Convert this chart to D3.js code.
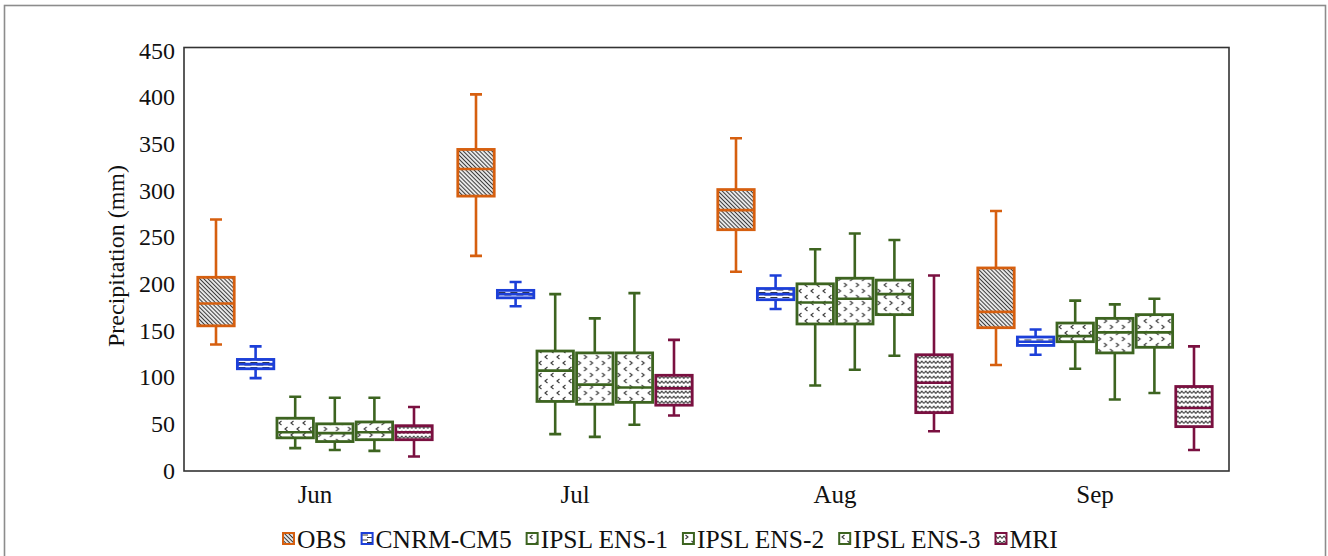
<!DOCTYPE html>
<meta charset="utf-8">
<script src="https://d3js.org/d3.v7.min.js"></script>
<style>
  body { margin: 0; background: #fff; }
</style>
<body>
  <div id="chart"></div>
</body>
<script>

  // categories and series
  var months = ["Jun", "Jul", "Aug", "Sep"];
  var seriesNames = ["OBS", "CNRM-CM5", "IPSL ENS-1", "IPSL ENS-2", "IPSL ENS-3", "MRI"];
  var seriesColors = ["#d65f0f", "#1c3fd8", "#3d6420", "#7a1040"];
  var yTicks = [0, 50, 100, 150, 200, 250, 300, 350, 400, 450];

  // box stats per month: [low whisker, q1, median, q3, high whisker]
  var obsStats   = [[135, 155, 179, 207, 269], [230, 294, 323, 344, 403], [213, 258, 279, 301, 356], [113, 153, 170, 217, 278]];
  var cnrmStats  = [[99, 109, 114, 119, 133], [176, 185, 189, 193, 202], [173, 183, 189, 195, 209], [124, 134, 138, 143, 151]];
  var ipsl1Stats = [[24, 35, 41, 56, 79], [39, 74, 107, 128, 189], [91, 157, 180, 200, 237], [109, 138, 144, 158, 182]];
  var ipsl2Stats = [[22, 31, 40, 50, 78], [36, 71, 92, 126, 163], [108, 157, 184, 206, 254], [76, 126, 148, 163, 178]];
  var ipsl3Stats = [[21, 33, 41, 52, 78], [49, 73, 89, 126, 190], [123, 167, 189, 204, 247], [83, 132, 148, 167, 184]];
  var mriStats   = [[15, 33, 41, 48, 68], [59, 70, 88, 102, 140], [42, 62, 94, 124, 209], [22, 47, 67, 90, 133]];

  var allStats = [obsStats, cnrmStats, ipsl1Stats, ipsl2Stats, ipsl3Stats, mriStats];
  var colorOf = [seriesColors[0], seriesColors[1], seriesColors[2], seriesColors[2], seriesColors[2], seriesColors[3]];
  var patternOf = ["pat-obs", "pat-cnrm", "pat-ipsl1", "pat-ipsl2", "pat-ipsl3", "pat-mri"];

  var serif = "'Liberation Serif', 'Times New Roman', serif";
  var W = 1328, H = 556;
  var frame = { left: 184, right: 1229, top: 47.5, bottom: 471 };

  var svg = d3.select("#chart")
    .append("svg")
    .attr("width", W)
    .attr("height", H)
    .style("font-family", serif);

  // outer figure border
  svg.append("rect")
    .attr("x", 4.5).attr("y", 5.5)
    .attr("width", 1321).attr("height", 560)
    .attr("fill", "none")
    .attr("stroke", "#8c8c8c")
    .attr("stroke-width", 1.6);

  // patterns
  var defs = svg.append("defs");

  var p = defs.append("pattern").attr("id", "pat-obs")
    .attr("patternUnits", "userSpaceOnUse").attr("width", 6).attr("height", 2.9)
    .attr("patternTransform", "rotate(45)");
  p.append("rect").attr("width", 6).attr("height", 2.9).attr("fill", "#fff");
  p.append("line").attr("x1", 0).attr("x2", 6).attr("y1", 1.45).attr("y2", 1.45)
    .attr("stroke", "#3a3a3a").attr("stroke-width", 1.2);

  p = defs.append("pattern").attr("id", "pat-cnrm")
    .attr("patternUnits", "userSpaceOnUse").attr("width", 12).attr("height", 5)
    .attr("y", 1);
  p.append("rect").attr("width", 12).attr("height", 5).attr("fill", "#fff");
  p.append("path").attr("d", "M1,1.5H8M7,4H12M0,4H2")
    .attr("stroke", "#333").attr("stroke-width", 1.1).attr("fill", "none");

  function chevronPattern(id, dirs) {
    var pt = defs.append("pattern").attr("id", id)
      .attr("patternUnits", "userSpaceOnUse").attr("width", 12).attr("height", 12);
    pt.append("rect").attr("width", 12).attr("height", 12).attr("fill", "#fff");
    var spots = [[3, 3], [9, 9]];
    spots.forEach(function (s, i) {
      var d = dirs[i];
      var path = d === "<"
        ? "M" + (s[0] + 1.5) + "," + (s[1] - 2) + "L" + (s[0] - 1) + "," + s[1] + "L" + (s[0] + 1.5) + "," + (s[1] + 2)
        : "M" + (s[0] - 1.5) + "," + (s[1] - 2) + "L" + (s[0] + 1) + "," + s[1] + "L" + (s[0] - 1.5) + "," + (s[1] + 2);
      pt.append("path").attr("d", path)
        .attr("stroke", "#3a3a3a").attr("stroke-width", 1.1).attr("fill", "none");
    });
  }
  chevronPattern("pat-ipsl1", ["<", "<"]);
  chevronPattern("pat-ipsl2", [">", ">"]);
  chevronPattern("pat-ipsl3", [">", "<"]);

  p = defs.append("pattern").attr("id", "pat-mri")
    .attr("patternUnits", "userSpaceOnUse").attr("width", 8).attr("height", 5);
  p.append("rect").attr("width", 8).attr("height", 5).attr("fill", "#fff");
  p.append("path").attr("d", "M0,3.5L2,1.2L4,3.5L6,1.2L8,3.5")
    .attr("stroke", "#333").attr("stroke-width", 1.1).attr("fill", "none");

  // scales
  var y = d3.scaleLinear().domain([0, 450]).range([470.5, 50.5]);
  var x = d3.scaleBand().domain(months).range([185, 1225]);
  var xs = d3.scaleBand().domain(seriesNames)
    .range([-118.8, 118.8]).paddingInner(0.08).paddingOuter(0.04);

  // y axis labels (no tick marks)
  svg.append("g")
    .attr("transform", "translate(" + frame.left + ",0)")
    .call(d3.axisLeft(y).tickValues(yTicks).tickSize(0).tickPadding(9))
    .call(function (g) { g.select(".domain").remove(); })
    .attr("font-family", null)
    .selectAll("text")
    .style("font-family", serif)
    .style("font-size", "24px")
    .attr("fill", "#111");

  // x axis labels
  svg.append("g")
    .attr("transform", "translate(0," + frame.bottom + ")")
    .call(d3.axisBottom(x).tickSize(0).tickPadding(14))
    .call(function (g) { g.select(".domain").remove(); })
    .attr("font-family", null)
    .selectAll("text")
    .style("font-family", serif)
    .style("font-size", "25px")
    .attr("fill", "#111");

  // plot frame
  svg.append("rect")
    .attr("x", frame.left).attr("y", frame.top)
    .attr("width", frame.right - frame.left)
    .attr("height", frame.bottom - frame.top)
    .attr("fill", "none")
    .attr("stroke", "#333")
    .attr("stroke-width", 1.6);

  // y label
  svg.append("text")
    .attr("transform", "translate(124,256) rotate(-90)")
    .attr("text-anchor", "middle")
    .style("font-family", serif)
    .style("font-size", "24px")
    .attr("fill", "#111")
    .text("Precipitation (mm)");

  // boxes
  var boxes = [];
  allStats.forEach(function (stats, si) {
    stats.forEach(function (st, mi) {
      boxes.push({ month: months[mi], series: seriesNames[si], si: si, st: st });
    });
  });

  var bw = xs.bandwidth();
  var capW = 12;

  var g = svg.append("g")
    .selectAll("g.box")
    .data(boxes)
    .enter()
    .append("g")
    .attr("class", "box")
    .attr("transform", function (d) {
      return "translate(" + (x(d.month) + x.bandwidth() / 2 + xs(d.series)) + ",0)";
    });

  // whiskers
  g.append("path")
    .attr("d", function (d) {
      var cx = bw / 2;
      return "M" + cx + "," + y(d.st[4]) + "V" + y(d.st[3]) +
        "M" + cx + "," + y(d.st[1]) + "V" + y(d.st[0]) +
        "M" + (cx - capW / 2) + "," + y(d.st[4]) + "H" + (cx + capW / 2) +
        "M" + (cx - capW / 2) + "," + y(d.st[0]) + "H" + (cx + capW / 2);
    })
    .attr("fill", "none")
    .attr("stroke", function (d) { return colorOf[d.si]; })
    .attr("stroke-width", 2.6);

  g.append("rect")
    .attr("x", 0)
    .attr("y", function (d) { return y(d.st[3]); })
    .attr("width", bw)
    .attr("height", function (d) { return y(d.st[1]) - y(d.st[3]); })
    .attr("fill", function (d) { return "url(#" + patternOf[d.si] + ")"; })
    .attr("stroke", function (d) { return colorOf[d.si]; })
    .attr("stroke-width", 2.8);

  g.append("line")
    .attr("x1", 0).attr("x2", bw)
    .attr("y1", function (d) { return y(d.st[2]); })
    .attr("y2", function (d) { return y(d.st[2]); })
    .attr("stroke", function (d) { return colorOf[d.si]; })
    .attr("stroke-width", 2.6);

  // legend
  var legend = svg.append("g").attr("transform", "translate(282,0)");
  var lx = 0;
  seriesNames.forEach(function (name, i) {
    legend.append("rect")
      .attr("x", lx + 1).attr("y", 533)
      .attr("width", 11).attr("height", 11)
      .attr("fill", "url(#" + patternOf[i] + ")")
      .attr("stroke", colorOf[i])
      .attr("stroke-width", 2);
    var t = legend.append("text")
      .attr("x", lx + 15).attr("y", 548)
      .style("font-family", serif)
      .style("font-size", "25.5px")
      .attr("fill", "#111")
      .text(name);
    lx += 15 + t.node().getComputedTextLength() + 14;
  });

</script>
